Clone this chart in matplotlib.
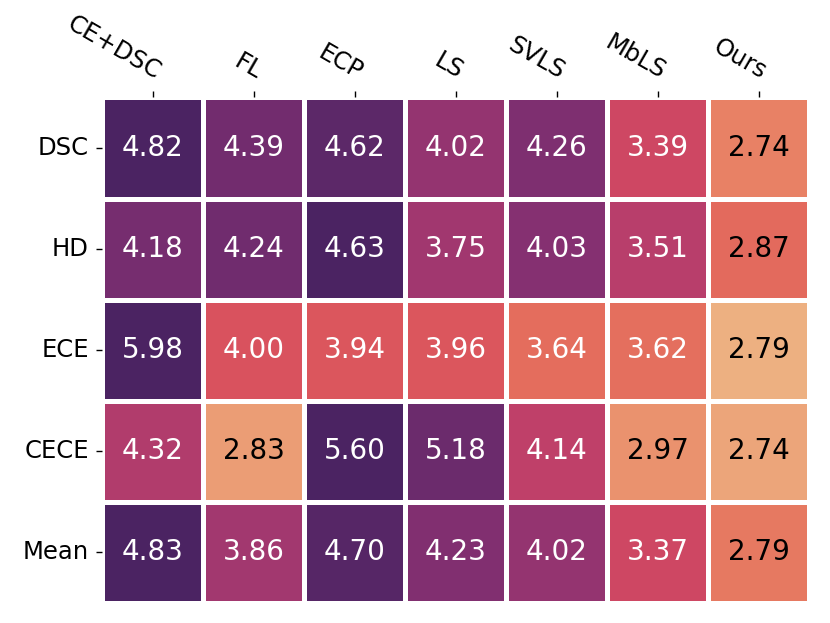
import numpy as np
import matplotlib
matplotlib.use('Agg')
import matplotlib.pyplot as plt
import seaborn as sns

# data
methods = ["CE+DSC", "FL", "ECP", "LS", "SVLS", "MbLS", "Ours"]
metrics = ["DSC", "HD", "ECE", "CECE", "Mean"]

dsc_vals  = [4.82, 4.39, 4.62, 4.02, 4.26, 3.39, 2.74]
hd_vals   = [4.18, 4.24, 4.63, 3.75, 4.03, 3.51, 2.87]
ece_vals  = [5.98, 4.00, 3.94, 3.96, 3.64, 3.62, 2.79]
cece_vals = [4.32, 2.83, 5.60, 5.18, 4.14, 2.97, 2.74]
mean_vals = [4.83, 3.86, 4.70, 4.23, 4.02, 3.37, 2.79]

# colour scale runs per row: lower bound estimated from the shades, top = row max
row_lo = [2.25, 2.19, 2.79, 2.60, 2.21]

values = np.array([dsc_vals, hd_vals, ece_vals, cece_vals, mean_vals])
lo = np.array(row_lo)[:, None]
hi = values.max(axis=1, keepdims=True)
shade = (values - lo) / (hi - lo)

fig = plt.figure(figsize=(8.3, 6.23), dpi=100)
ax = fig.add_axes([0.1229, 0.0321, 0.8518, 0.8114])

sns.heatmap(shade, cmap="flare", vmin=0, vmax=1, annot=values, fmt=".2f",
            annot_kws={"fontsize": 20}, linewidths=3.6, linecolor="white",
            cbar=False, ax=ax)

# dark text on the light cells (< 3), white elsewhere
for txt, v in zip(ax.texts, values.flat):
    txt.set_color("black" if v < 3 else "white")

ax.xaxis.tick_top()
ax.set_xticklabels(methods, rotation=-30, ha="right", rotation_mode="anchor",
                   fontsize=17.5)
ax.set_yticklabels(metrics, rotation=0, fontsize=17.5)
ax.tick_params(axis="both", length=4.5, width=1, pad=5)

fig.savefig("out.png", dpi=100)
